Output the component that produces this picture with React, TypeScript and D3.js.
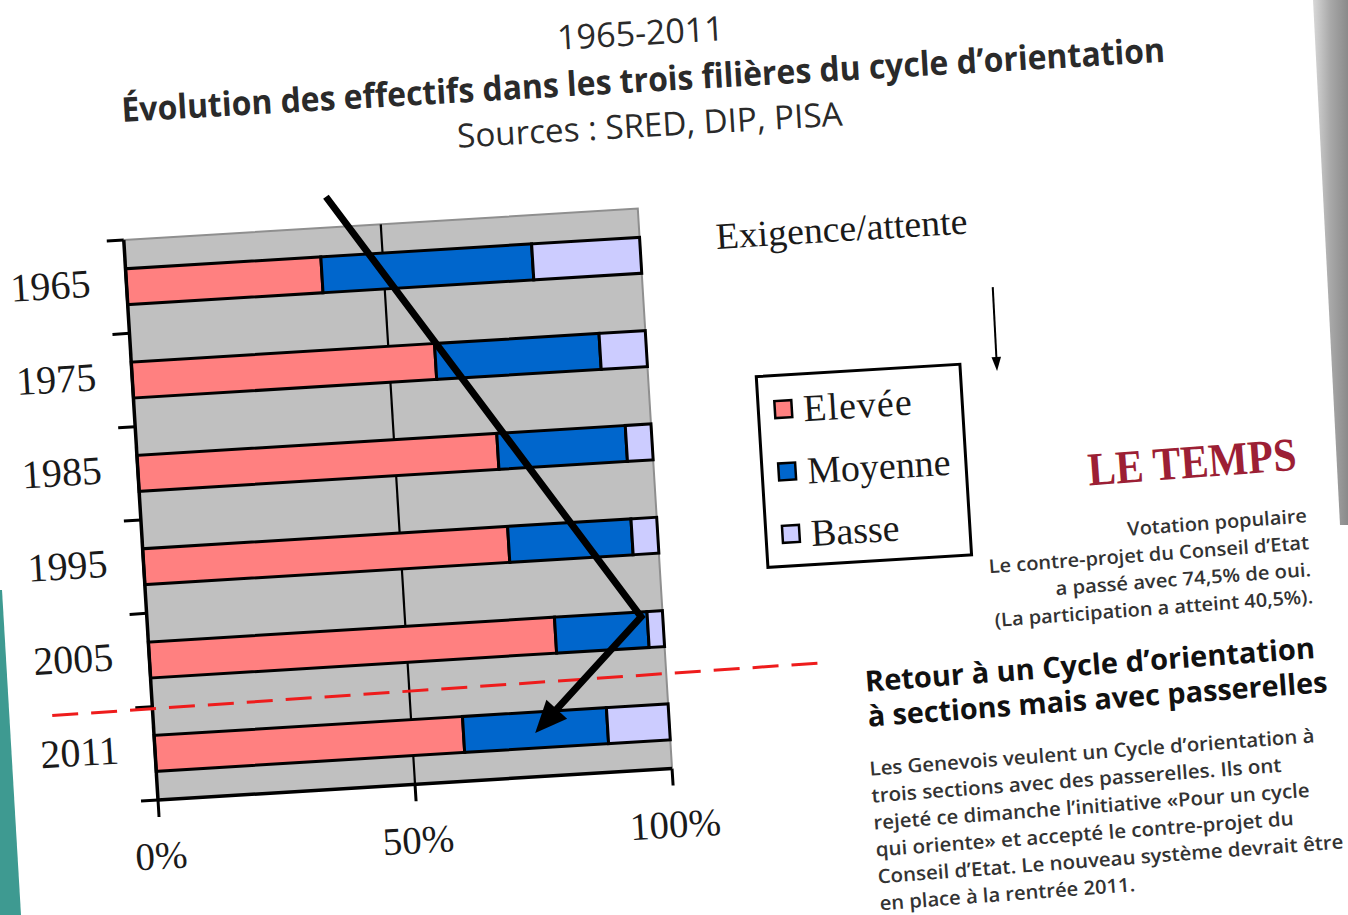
import React from "react";
import * as d3 from "d3";

// values (percent of pupils per track)
const years = ["1965", "1975", "1985", "1995", "2005", "2011"];
const levels = ["Elevée", "Moyenne", "Basse"];
const elevee = [38, 59, 70, 71, 79, 60];
const moyenne = [41, 32, 25, 24, 18, 28];
const basse = [21, 9, 5, 5, 3, 12];
const xTicks = [0, 50, 100];
const levelColors = ["#ff8080", "#0066cc", "#ccccff"];

// annotations: [percent, position in band steps from the top of 1965]
const trendPath: [number, number][] = [[39.7, -0.33], [95.8, 4.36], [73.9, 5.53]];
const reformLine: [number, number][] = [[-19.5, 5.03], [130, 4.97]];

const titleLines = [
  "1965-2011",
  "Évolution des effectifs dans les trois filières du cycle d’orientation",
  "Sources : SRED, DIP, PISA",
];
const voteLines = [
  "Votation populaire",
  "Le contre-projet du Conseil d’Etat",
  "a passé avec 74,5% de oui.",
  "(La participation a atteint 40,5%).",
];
const headLines = ["Retour à un Cycle d’orientation", "à sections mais avec passerelles"];
const bodyLines = [
  "Les Genevois veulent un Cycle d’orientation à",
  "trois sections avec des passerelles. Ils ont",
  "rejeté ce dimanche l’initiative «Pour un cycle",
  "qui oriente» et accepté le contre-projet du",
  "Conseil d’Etat. Le nouveau système devrait être",
  "en place à la rentrée 2011.",
];

const W = 515;
const H = 561;
const SERIF = "'Liberation Serif', 'DejaVu Serif', serif";
const SANS = "'Open Sans', 'Noto Sans', sans-serif";

export default function App() {
  const x = d3.scaleLinear().domain([0, 100]).range([0, W]);
  const y = d3
    .scaleBand<string>()
    .domain(years)
    .range([0, H])
    .paddingInner(0.615)
    .paddingOuter(0.3075);
  const step = y.step();
  const bw = y.bandwidth();
  const rows = years.map((yr, i) => ({
    year: yr,
    Elevée: elevee[i],
    Moyenne: moyenne[i],
    Basse: basse[i],
  }));
  const series = d3.stack<any>().keys(levels)(rows);

  const annLine = d3
    .line<[number, number]>()
    .x((d) => x(d[0]))
    .y((d) => d[1] * step);

  // arrow head at the end of the trend path
  const pts = trendPath.map((d) => [x(d[0]), d[1] * step]);
  const [bx, by] = pts[pts.length - 2];
  const [cx, cy] = pts[pts.length - 1];
  const ang = Math.atan2(cy - by, cx - bx);
  const hl = 32;
  const hw = 14;
  const ux = Math.cos(ang);
  const uy = Math.sin(ang);
  const baseX = cx - ux * hl;
  const baseY = cy - uy * hl;
  const head = `M${cx},${cy}L${baseX - uy * hw},${baseY + ux * hw}L${baseX + uy * hw},${baseY - ux * hw}Z`;
  const shaft = [...pts.slice(0, -1), [baseX + ux * 4, baseY + uy * 4]];

  return (
    <svg
      width={1348}
      height={915}
      style={{ position: "absolute", left: 0, top: 0, background: "#fff" }}
    >
      <defs>
        <linearGradient id="edge" x1="0" x2="1" y1="0" y2="0">
          <stop offset="0" stopColor="#d8d8d8" />
          <stop offset="0.5" stopColor="#a8a8a8" />
          <stop offset="1" stopColor="#8a8a8a" />
        </linearGradient>
      </defs>
      <rect width={1348} height={915} fill="#fff" />
      <path d="M1313,0L1348,0L1348,525L1340,525Z" fill="url(#edge)" />
      <path d="M0,590L2,590L21,915L0,915Z" fill="#3e9a91" />

      {/* title */}
      <g transform="translate(643,78) rotate(-3.3)" fill="#2a2a2a" fontFamily={SANS}>
        <text x={0} y={-33} fontSize={34} textAnchor="middle" textLength={167} lengthAdjust="spacingAndGlyphs">
          {titleLines[0]}
        </text>
        <text x={0} y={14} fontSize={34} fontWeight={700} textAnchor="middle" textLength={1045} lengthAdjust="spacingAndGlyphs">
          {titleLines[1]}
        </text>
        <text x={4} y={59} fontSize={33} textAnchor="middle" textLength={386} lengthAdjust="spacingAndGlyphs">
          {titleLines[2]}
        </text>
      </g>

      {/* chart, legend and chart annotations share the tilted frame */}
      <g transform={`translate(158,800) rotate(-3.5) translate(0,${-H})`}>
        <rect width={W} height={H} fill="#c0c0c0" />
        <path d={`M0,0H${W}V${H}`} fill="none" stroke="#8f8f8f" strokeWidth={2} />
        <line x1={x(50)} x2={x(50)} y1={0} y2={H} stroke="#000" strokeWidth={2.2} />

        {series.map((s, k) =>
          s.map((d, i) => (
            <rect
              key={`${k}-${i}`}
              x={x(d[0])}
              y={y(years[i])}
              width={x(d[1]) - x(d[0])}
              height={bw}
              fill={levelColors[k]}
              stroke="#000"
              strokeWidth={3}
            />
          ))
        )}

        <line x1={0} x2={0} y1={0} y2={H} stroke="#000" strokeWidth={3.5} />
        {d3.range(years.length + 1).map((i) => (
          <line key={i} x1={-17} x2={0} y1={i * step} y2={i * step} stroke="#000" strokeWidth={3} />
        ))}
        <line x1={0} x2={W} y1={H} y2={H} stroke="#000" strokeWidth={3.5} />
        {xTicks.map((t) => (
          <line key={t} x1={x(t)} x2={x(t)} y1={H} y2={H + 17} stroke="#000" strokeWidth={3} />
        ))}

        {years.map((yr) => (
          <text
            key={yr}
            x={-36}
            y={(y(yr) || 0) + bw / 2 - 6}
            dy="0.35em"
            textAnchor="end"
            fontFamily={SERIF}
            fontSize={40}
            fill="#1a1a1a"
          >
            {yr}
          </text>
        ))}
        {xTicks.map((t) => (
          <text
            key={t}
            x={x(t)}
            y={H + 69}
            textAnchor="middle"
            fontFamily={SERIF}
            fontSize={39}
            fill="#1a1a1a"
          >
            {t}%
          </text>
        ))}

        <path
          d={annLine(reformLine) || ""}
          fill="none"
          stroke="#ee1c1c"
          strokeWidth={3}
          strokeDasharray="26 13"
        />
        <path
          d={d3.line()(shaft as [number, number][]) || ""}
          fill="none"
          stroke="#000"
          strokeWidth={7}
          strokeLinejoin="miter"
        />
        <path d={head} fill="#000" />

        <text x={591} y={45} fontFamily={SERIF} fontSize={37} fill="#1a1a1a" textLength={252} lengthAdjust="spacingAndGlyphs">
          Exigence/attente
        </text>
        <line x1={864.5} x2={863.8} y1={100} y2={175} stroke="#000" strokeWidth={2} />
        <path d="M859,170L868.5,170L863.7,184Z" fill="#000" />

        <rect x={623} y={175} width={204} height={191} fill="#fff" stroke="#000" strokeWidth={3} />
        {levels.map((lv, k) => (
          <g key={lv} transform={`translate(648,${209 + k * 62.5})`}>
            <rect x={-8.5} y={-8.5} width={17} height={17} fill={levelColors[k]} stroke="#000" strokeWidth={2.5} />
            <text
              x={20}
              y={0}
              dy="0.35em"
              fontFamily={SERIF}
              fontSize={38}
              fill="#1a1a1a"
              letterSpacing={lv === "Elevée" ? 1 : 0}
            >
              {lv}
            </text>
          </g>
        ))}
      </g>

      {/* newspaper excerpt */}
      <g transform="translate(1090,700) rotate(-4.3)" fontFamily={SANS}>
        <text x={224} y={-214} textAnchor="end" fontFamily={SERIF} fontWeight={700} fontSize={47} fill="#9c1f35" textLength={209} lengthAdjust="spacingAndGlyphs">
          LE TEMPS
        </text>
        {voteLines.map((t, i) => (
          <text
            key={t}
            x={230}
            y={[-161, -134, -107, -80][i]}
            textAnchor="end"
            fontSize={19}
            fontWeight={600}
            fill="#333"
            textLength={[180, 321, 256, 319][i]}
            lengthAdjust="spacingAndGlyphs"
          >
            {t}
          </text>
        ))}
        {headLines.map((t, i) => (
          <text
            key={t}
            x={-223}
            y={-25 + i * 35}
            fontSize={29}
            fontWeight={700}
            fill="#111"
            textLength={[451, 461][i]}
            lengthAdjust="spacingAndGlyphs"
          >
            {t}
          </text>
        ))}
        {bodyLines.map((t, i) => (
          <text
            key={t}
            x={-225}
            y={59 + i * 27}
            fontSize={19.5}
            fontWeight={600}
            fill="#333"
            textLength={[446, 411, 437, 419, 467, 256][i]}
            lengthAdjust="spacingAndGlyphs"
          >
            {t}
          </text>
        ))}
      </g>
    </svg>
  );
}
